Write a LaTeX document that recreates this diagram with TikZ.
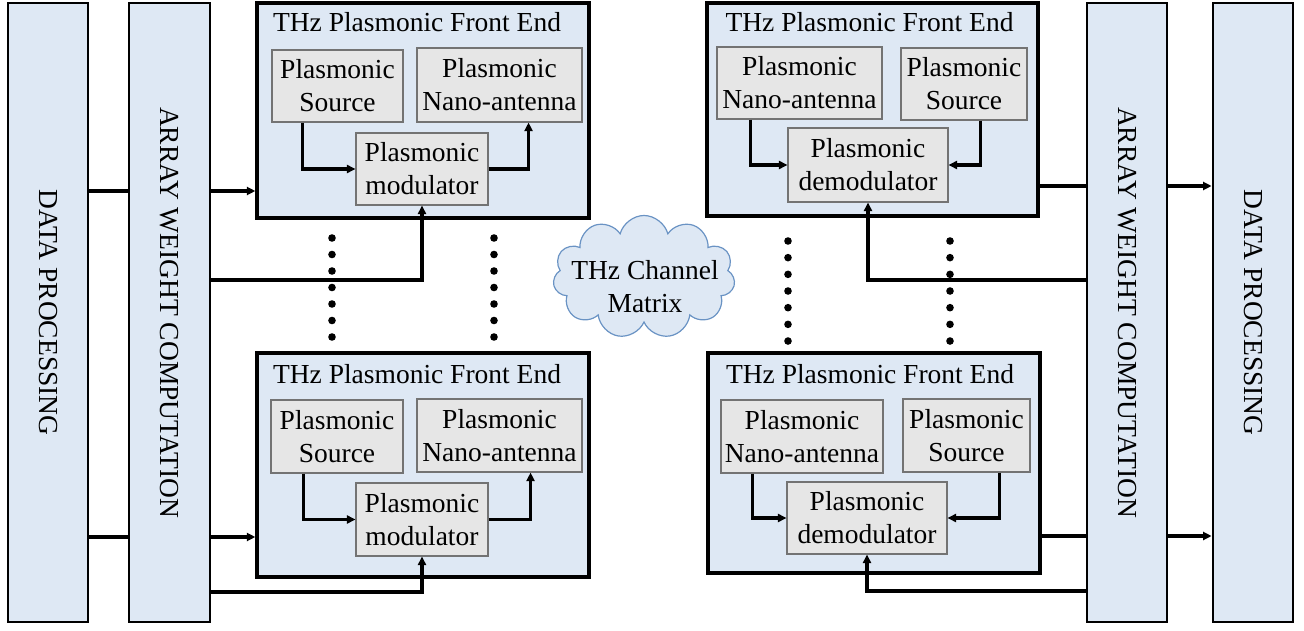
\documentclass[tikz,border=0pt]{standalone}
\usepackage{fontspec}
\setmainfont{Liberation Serif}
\usetikzlibrary{arrows.meta,shapes.symbols,calc}
\definecolor{boxblue}{HTML}{DEE8F4}
\definecolor{innergray}{HTML}{E6E6E6}
\definecolor{cloudedge}{HTML}{6A93C4}
\begin{document}
\begin{tikzpicture}[x=1pt,y=-1pt,
  every node/.style={font=\fontsize{27.5}{33}\selectfont},
  bar/.style={draw, line width=2.8pt, fill=boxblue, inner sep=0, minimum width=80pt, minimum height=619pt},
  fe/.style={draw, line width=3.3pt, fill=boxblue, inner sep=0},
  inbox/.style={draw=black!55, line width=1.1pt, fill=innergray, inner sep=0, align=center},
  title/.style={inner sep=0},
  conn/.style={line width=3.1pt},
  arr/.style={conn, -{Triangle[length=8.5pt,width=8pt]}},
  dot/.style={fill=black}
]
\useasboundingbox (0,0) rectangle (1304,631);

% side bars
\node[bar] (DPL) at (48,312.5) {\rotatebox{-90}{DATA PROCESSING}};
\node[bar, minimum width=81pt] (AWL) at (169.5,312.5) {\rotatebox{-90}{ARRAY WEIGHT COMPUTATION}};
\node[bar] (AWR) at (1127,312.5) {\rotatebox{-90}{ARRAY WEIGHT COMPUTATION}};
\node[bar] (DPR) at (1253,312.5) {\rotatebox{-90}{DATA PROCESSING}};

% front ends
\node[fe, minimum width=332pt, minimum height=215pt] (FE1) at (423,110.5) {};
\node[fe, minimum width=332pt, minimum height=224pt] (FE2) at (423,465) {};
\node[fe, minimum width=331pt, minimum height=213pt] (FE3) at (872.5,109.5) {};
\node[fe, minimum width=332pt, minimum height=220pt] (FE4) at (874,463) {};

\node[title] (T1) at ($(FE1.north)+(-6,21)$) {THz Plasmonic Front End};
\node[title] (T2) at ($(FE2.north)+(-6,23)$) {THz Plasmonic Front End};
\node[title] (T3) at ($(FE3.north)+(-3,21)$) {THz Plasmonic Front End};
\node[title] (T4) at ($(FE4.north)+(-4,23)$) {THz Plasmonic Front End};

% inner boxes FE1
\node[inbox, minimum width=131pt, minimum height=72pt] (src1) at (337.5,86) {Plasmonic\\Source};
\node[inbox, minimum width=165pt, minimum height=74pt] (nano1) at (499.5,85) {Plasmonic\\Nano-antenna};
\node[inbox, minimum width=132pt, minimum height=72pt] (mod1) at (422,169) {Plasmonic\\modulator};
% FE2
\node[inbox, minimum width=132pt, minimum height=73pt] (src2) at (337,436.5) {Plasmonic\\Source};
\node[inbox, minimum width=165pt, minimum height=73pt] (nano2) at (499.5,435.5) {Plasmonic\\Nano-antenna};
\node[inbox, minimum width=132pt, minimum height=73pt] (mod2) at (422,519.5) {Plasmonic\\modulator};
% FE3
\node[inbox, minimum width=165pt, minimum height=72pt] (nano3) at (799.5,83) {Plasmonic\\Nano-antenna};
\node[inbox, minimum width=126pt, minimum height=72pt] (src3) at (964,84) {Plasmonic\\Source};
\node[inbox, minimum width=160pt, minimum height=74pt] (dem3) at (868,165) {Plasmonic\\demodulator};
% FE4
\node[inbox, minimum width=162pt, minimum height=73pt] (nano4) at (802,436.5) {Plasmonic\\Nano-antenna};
\node[inbox, minimum width=127pt, minimum height=73pt] (src4) at (966.5,435.5) {Plasmonic\\Source};
\node[inbox, minimum width=160pt, minimum height=72pt] (dem4) at (867,518) {Plasmonic\\demodulator};

% cloud
\node[cloud, cloud puffs=11, aspect=1.5, draw=cloudedge, fill=boxblue, line width=1.2pt,
      minimum width=182pt, minimum height=123pt, inner sep=0] (cloud) at (644,277) {};
\node[align=center, inner sep=0] (cloudtext) at (645,287) {THz Channel\\Matrix};

% row coordinates
\coordinate (ya) at (0,191);
\coordinate (yb) at (0,280);
\coordinate (yc) at (0,537);
\coordinate (yd) at (0,592);
\coordinate (ra) at (0,186);
\coordinate (rb) at (0,280);
\coordinate (rc) at (0,536);
\coordinate (rd) at (0,591);

% left connectors
\draw[conn] (DPL.east |- ya) -- (AWL.west |- ya);
\draw[arr] (AWL.east |- ya) -- (FE1.west |- ya);
\draw[arr] (AWL.east |- yb) -| (mod1.south);
\draw[conn] (DPL.east |- yc) -- (AWL.west |- yc);
\draw[arr] (AWL.east |- yc) -- (FE2.west |- yc);
\draw[arr] (AWL.east |- yd) -| (mod2.south);

% right connectors
\draw[conn] (FE3.east |- ra) -- (AWR.west |- ra);
\draw[arr] (AWR.east |- ra) -- (DPR.west |- ra);
\draw[arr] (AWR.west |- rb) -| (dem3.south);
\draw[conn] (FE4.east |- rc) -- (AWR.west |- rc);
\draw[arr] (AWR.east |- rc) -- (DPR.west |- rc);
\draw[arr] (AWR.west |- rd) -| (dem4.south);

% inner connectors
\draw[arr] ($(src1.south west)+(31,0)$) |- (mod1.west);
\draw[arr] (mod1.east) -| ($(nano1.south east)+(-54,0)$);
\draw[arr] ($(src2.south west)+(33,0)$) |- (mod2.west);
\draw[arr] (mod2.east) -| ($(nano2.south east)+(-52,0)$);
\draw[arr] ($(nano3.south west)+(34,0)$) |- (dem3.west);
\draw[arr] ($(src3.south east)+(-47,0)$) |- (dem3.east);
\draw[arr] ($(nano4.south west)+(32,0)$) |- (dem4.west);
\draw[arr] ($(src4.south east)+(-31,0)$) |- (dem4.east);

% dots
\foreach \x in {332,494} \foreach \i in {0,...,6} \fill[dot] (\x,238+16.5*\i) circle[radius=3.8pt];
\foreach \x in {788,950} \foreach \i in {0,...,6} \fill[dot] (\x,241+16.67*\i) circle[radius=3.8pt];
\end{tikzpicture}
\end{document}
